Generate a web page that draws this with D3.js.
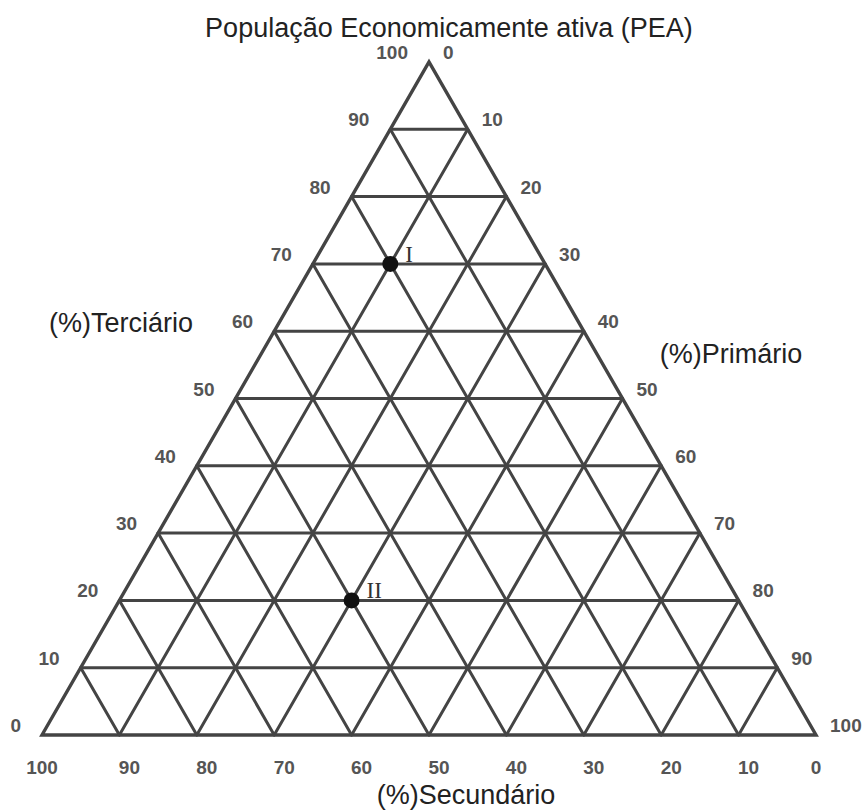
<!DOCTYPE html>
<html>
<head>
<meta charset="utf-8">
<script src="https://cdn.jsdelivr.net/npm/d3@7"></script>
<style>
  body { margin: 0; background: #fff; }
</style>
</head>
<body>
<div id="viz"></div>
<script>
// tick labels
var gridSteps = [10, 20, 30, 40, 50, 60, 70, 80, 90];
var leftTicks = [0, 10, 20, 30, 40, 50, 60, 70, 80, 90, 100];      // Terciario, bottom -> top
var rightTicks = [100, 90, 80, 70, 60, 50, 40, 30, 20, 10, 0];     // Primario, bottom -> top
var bottomTicks = [100, 90, 80, 70, 60, 50, 40, 30, 20, 10, 0];    // Secundario, left -> right

// the two marked points
var pointNames = ["I", "II"];
var terciario = [70, 20];
var primario = [10, 30];
var secundario = [20, 50];

var width = 864;
var height = 812;
var gridColor = "#444";
var tickColor = "#555";

var svg = d3.select("#viz").append("svg").attr("width", width).attr("height", height);

// u = distance from left edge along the base, t = level from the base
var xScale = d3.scaleLinear().domain([0, 100]).range([42, 816]);
var yScale = d3.scaleLinear().domain([0, 100]).range([735, 62]);

function px(t, u) { return xScale(u + t / 2); }
function py(t) { return yScale(t); }

// grid lines, three families
var lines = [];
gridSteps.forEach(function (k) {
    lines.push([[k, 0], [k, 100 - k]]);          // horizontal, level k
    lines.push([[0, k], [100 - k, k]]);          // parallel to left edge
    lines.push([[0, 100 - k], [100 - k, 0]]);    // parallel to right edge
});

svg.append("g").selectAll("line")
    .data(lines)
    .enter()
    .append("line")
    .attr("x1", function (d) { return px(d[0][0], d[0][1]); })
    .attr("y1", function (d) { return py(d[0][0]); })
    .attr("x2", function (d) { return px(d[1][0], d[1][1]); })
    .attr("y2", function (d) { return py(d[1][0]); })
    .attr("stroke", gridColor)
    .attr("stroke-width", 3)
    .attr("stroke-linecap", "round");

// outer triangle
var outer = [[0, 0], [0, 100], [100, 0]];
svg.append("path")
    .attr("d", d3.line().x(function (d) { return px(d[0], d[1]); }).y(function (d) { return py(d[0]); })(outer) + "Z")
    .attr("fill", "none")
    .attr("stroke", gridColor)
    .attr("stroke-width", 3.4)
    .attr("stroke-linejoin", "miter");

var tickFont = "'Liberation Sans', Arial, sans-serif";

// left ticks (Terciario)
svg.append("g").selectAll("text")
    .data(leftTicks)
    .enter()
    .append("text")
    .attr("x", function (d) { return px(d, 0) - 21; })
    .attr("y", function (d) { return py(d) - 3; })
    .attr("text-anchor", "end")
    .attr("font-family", tickFont)
    .attr("font-weight", "bold")
    .attr("font-size", "19px")
    .attr("fill", tickColor)
    .text(function (d) { return d; });

// right ticks (Primario)
svg.append("g").selectAll("text")
    .data(rightTicks)
    .enter()
    .append("text")
    .attr("x", function (d, i) { return px(leftTicks[i], 100 - leftTicks[i]) + 14; })
    .attr("y", function (d, i) { return py(leftTicks[i]) - 3; })
    .attr("text-anchor", "start")
    .attr("font-family", tickFont)
    .attr("font-weight", "bold")
    .attr("font-size", "19px")
    .attr("fill", tickColor)
    .text(function (d) { return d; });

// bottom ticks (Secundario)
svg.append("g").selectAll("text")
    .data(bottomTicks)
    .enter()
    .append("text")
    .attr("x", function (d) { return px(0, 100 - d) + (d > 0 && d < 100 ? 10 : 0); })
    .attr("y", 774)
    .attr("text-anchor", "middle")
    .attr("font-family", tickFont)
    .attr("font-weight", "bold")
    .attr("font-size", "19px")
    .attr("fill", tickColor)
    .text(function (d) { return d; });

// axis titles
var titleFont = "'Liberation Sans', Arial, sans-serif";
var titles = [
    {text: "População Economicamente ativa (PEA)", x: 449, y: 37},
    {text: "(%)Terciário", x: 121, y: 332},
    {text: "(%)Primário", x: 731, y: 363},
    {text: "(%)Secundário", x: 466, y: 804}
];
svg.append("g").selectAll("text")
    .data(titles)
    .enter()
    .append("text")
    .attr("x", function (d) { return d.x; })
    .attr("y", function (d) { return d.y; })
    .attr("text-anchor", "middle")
    .attr("font-family", titleFont)
    .attr("font-size", "27px")
    .attr("fill", "#222")
    .text(function (d) { return d.text; });

// points I and II
var points = pointNames.map(function (n, i) {
    return {name: n, t: terciario[i], p: primario[i], s: secundario[i]};
});

var pg = svg.append("g").selectAll("g")
    .data(points)
    .enter()
    .append("g");

pg.append("circle")
    .attr("cx", function (d) { return px(d.t, d.p); })
    .attr("cy", function (d) { return py(d.t); })
    .attr("r", 8)
    .style("fill", "#111");

pg.append("text")
    .attr("x", function (d) { return px(d.t, d.p) + 15; })
    .attr("y", function (d) { return py(d.t) - 2; })
    .attr("font-family", "'Liberation Serif', 'DejaVu Serif', serif")
    .attr("font-size", "23px")
    .attr("fill", "#333")
    .text(function (d) { return d.name; });
</script>
</body>
</html>
